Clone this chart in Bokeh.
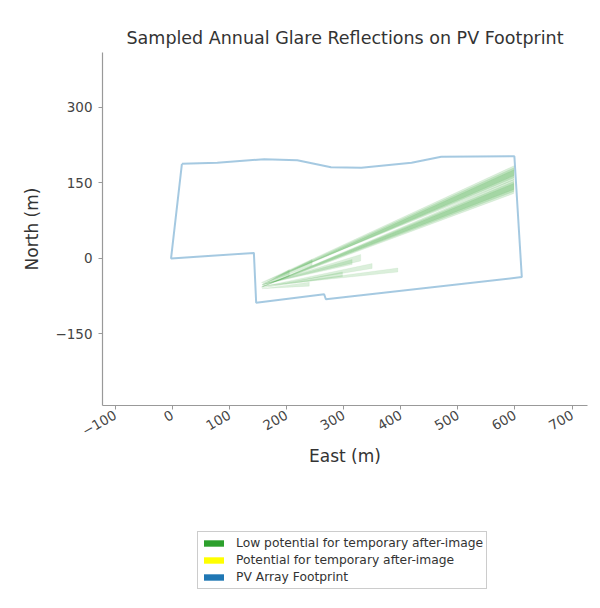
import math
from bokeh.plotting import figure
from bokeh.layouts import column
from bokeh.models import FixedTicker, Legend, LegendItem, Range1d
from bokeh.embed import file_html
from bokeh.resources import INLINE

# ---------------- data (metres) ----------------
footprint_east = [17, 79, 161, 219, 278, 331, 419, 471, 599, 612, 269, 266, 147, 143, -2, 17]
footprint_north = [188, 190, 197, 195, 181, 180, 190, 202, 203, -37, -81, -71, -88, 11, 0, 188]

# sampled glare reflection bands: apex point and far-end segment
glare_apex_east = [157, 159, 156, 157, 159, 156, 157, 158, 157, 157, 160, 158, 157, 157]
glare_apex_north = [-49, -50, -48, -56, -55, -57, -52, -55, -58, -60, -50, -53, -52, -56]
glare_end_east = [598, 598, 598, 598, 598, 598, 315, 395, 298, 240, 245, 205, 330, 350]
glare_end_north_low = [160, 164, 156, 133, 137, 129, -12, -27, -36, -55, -14, -35, -5, -20]
glare_end_north_high = [180, 176, 184, 153, 149, 157, -2, -19, -27, -47, -2, -22, 8, -10]

x_ticks = [-100, 0, 100, 200, 300, 400, 500, 600, 700]
y_ticks = [-150, 0, 150, 300]

legend_labels = ["Low potential for temporary after-image",
                 "Potential for temporary after-image",
                 "PV Array Footprint"]
legend_colors = ["#2ca02c", "#ffff00", "#1f77b4"]

FONT = "DejaVu Sans"

p = figure(frame_width=485, frame_height=353,
           min_border_left=102, min_border_top=52, min_border_right=5, min_border_bottom=80,
           x_range=Range1d(-122, 727), y_range=Range1d(-292, 409),
           output_backend="svg", toolbar_location=None,
           title="Sampled Annual Glare Reflections on PV Footprint")

p.title.text_font = FONT
p.title.text_font_size = "17.5px"
p.title.text_font_style = "normal"
p.title.text_color = "#333333"
p.title.align = "center"

p.outline_line_color = None
p.xgrid.visible = False
p.ygrid.visible = False
p.background_fill_color = "white"
p.border_fill_color = "white"

# glare wedges
xs = [[a, e, e] for a, e in zip(glare_apex_east, glare_end_east)]
ys = [[a, lo, hi] for a, lo, hi in zip(glare_apex_north, glare_end_north_low, glare_end_north_high)]
p.patches(xs, ys, fill_color="#2ca02c", fill_alpha=0.17, line_color="#2ca02c", line_alpha=0.06, line_width=1)

# footprint outline
p.line(footprint_east, footprint_north, line_color="#1f77b4", line_alpha=0.4, line_width=2)

# axes
for ax in (p.xaxis[0], p.yaxis[0]):
    ax.axis_line_color = "#999999"
    ax.axis_line_width = 1.2
    ax.major_tick_line_color = "#999999"
    ax.major_tick_in = 0
    ax.major_tick_out = 4
    ax.minor_tick_line_color = None
    ax.major_label_text_font = FONT
    ax.major_label_text_font_size = "13.5px"
    ax.major_label_text_color = "#444444"
    ax.axis_label_text_font = FONT
    ax.axis_label_text_font_size = "17px"
    ax.axis_label_text_font_style = "normal"
    ax.axis_label_text_color = "#333333"

p.xaxis.ticker = FixedTicker(ticks=x_ticks)
p.yaxis.ticker = FixedTicker(ticks=y_ticks)
p.xaxis.axis_label = "East (m)"
p.yaxis.axis_label = "North (m)"
p.xaxis.major_label_orientation = math.pi / 6
p.xaxis.major_label_standoff = 4
p.xaxis.axis_label_standoff = 2
p.yaxis.major_label_standoff = 6
p.yaxis.axis_label_standoff = 10

# ---------------- legend strip below the chart ----------------
lg = figure(frame_width=584, frame_height=115, min_border=0,
            x_range=Range1d(0, 1), y_range=Range1d(0, 1),
            x_axis_type=None, y_axis_type=None,
            output_backend="svg", toolbar_location=None)
lg.outline_line_color = None
lg.xgrid.visible = False
lg.ygrid.visible = False
lg.background_fill_color = "white"
lg.border_fill_color = "white"

items = []
for lab, col in zip(legend_labels, legend_colors):
    # proxy glyph placed outside the visible range; only its legend swatch shows
    r = lg.quad(left=[-10], right=[-9], top=[-9], bottom=[-10], fill_color=col, line_color=None)
    items.append(LegendItem(label=lab, renderers=[r]))

legend = Legend(items=items, location=(197, 11), orientation="vertical",
                label_text_font=FONT, label_text_font_size="12.3px", label_text_color="#333333",
                glyph_width=25, glyph_height=8, label_standoff=10, label_height=16,
                spacing=1, padding=3, margin=0,
                border_line_color="#cccccc", border_line_alpha=1, border_line_width=1,
                background_fill_color="white", background_fill_alpha=1)
lg.add_layout(legend, "center")

layout = column(p, lg, spacing=0)
open("out.html", "w").write(file_html(layout, INLINE))
